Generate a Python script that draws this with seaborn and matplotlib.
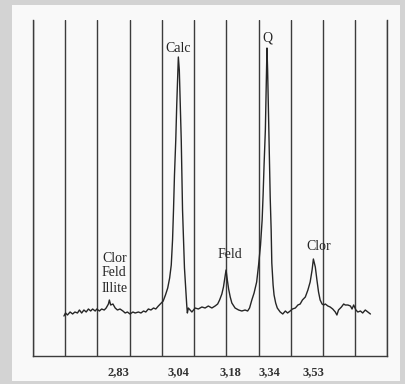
import numpy as np
import pandas as pd
import seaborn as sns
import matplotlib.pyplot as plt
from matplotlib.patches import Rectangle

# Diffractograma (posição em canais de varredura, intensidade em contagens relativas)
posicao = [9.6, 10.1, 10.7, 11.5, 12.3, 13.0, 13.8, 14.4, 15.1, 15.8, 16.5, 17.2, 17.9, 18.5,
           19.3, 19.8, 20.6, 21.3, 22.1, 22.7, 23.4, 23.7, 24.1, 24.8, 25.5, 26.2, 27.0, 27.9,
           28.6, 29.3, 30.1, 31.0, 31.7, 32.7, 33.5, 34.3, 35.0, 35.8, 36.6, 37.4, 38.1, 38.9,
           39.5, 40.4, 41.1, 41.8, 42.4, 42.9, 43.3, 43.6, 43.9, 44.3, 44.6, 44.9, 45.1, 45.4,
           45.7, 46.0, 46.2, 46.4, 46.7, 47.0, 47.4, 47.7, 47.9, 48.2, 49.3, 50.3, 51.3, 52.4,
           53.4, 54.4, 55.5, 56.5, 57.3, 57.9, 58.6, 59.1, 59.6, 59.9, 60.3, 60.7, 61.2, 61.7,
           62.7, 63.8, 64.8, 65.8, 66.6, 67.2, 67.9, 68.6, 69.4, 70.0, 70.6, 71.1, 71.4, 71.7,
           72.1, 72.3, 72.5, 72.6, 72.8, 73.0, 73.2, 73.4, 73.6, 73.9, 74.1, 74.5, 74.8, 75.3,
           75.8, 76.7, 77.5, 78.3, 79.0, 79.8, 80.5, 81.4, 82.2, 82.9, 83.6, 84.5, 85.3, 86.0,
           86.6, 87.0, 87.6, 88.1, 88.6, 89.1, 89.7, 90.2, 90.7, 91.5, 92.2, 93.0, 93.8, 94.3,
           94.8, 95.7, 96.4, 96.9, 97.7, 98.5, 99.0, 99.5, 100.2, 100.8, 101.6, 102.3, 103.1,
           103.9, 104.7]
intensidade = [40, 43, 41, 44, 42, 44, 43, 46, 43, 46, 44, 47, 45, 47,
               45, 47, 45, 47, 46, 48, 52, 56, 51, 52, 48, 46, 47, 45,
               43, 44, 42, 44, 43, 44, 43, 45, 44, 47, 46, 48, 47, 50,
               52, 55, 61, 68, 78, 91, 116, 146, 181, 216, 251, 281, 299, 286,
               251, 216, 181, 146, 116, 88, 66, 51, 43, 48, 44, 48, 47, 49,
               48, 50, 48, 50, 52, 56, 62, 69, 80, 86, 76, 67, 59, 53,
               48, 46, 45, 46, 45, 48, 56, 63, 74, 91, 111, 136, 161, 191,
               226, 261, 291, 308, 286, 256, 226, 191, 159, 126, 93, 71, 61, 53,
               48, 44, 42, 45, 43, 45, 47, 48, 51, 52, 56, 59, 66, 74,
               86, 97, 89, 76, 64, 56, 52, 51, 52, 50, 49, 47, 44, 41,
               46, 49, 52, 51, 51, 50, 47, 51, 46, 44, 45, 43, 46,
               44, 42]

# rótulos do eixo (d, em Å) e picos identificados
d_rotulos = ['2,83', '3,04', '3,18', '3,34', '3,53']
d_posicoes = [26.4, 45.0, 61.2, 73.3, 87.0]
minerais = ['Calc', 'Q', 'Feld', 'Clor', 'Clor\nFeld\nIllite']
minerais_x = [45.0, 72.7, 61.2, 88.5, 25.2]
minerais_y = [307, 318, 102, 110, 83]

df = pd.DataFrame({'posicao': posicao, 'intensidade': intensidade})

sns.set_theme(style='white')
plt.rcParams['font.family'] = ['Liberation Serif', 'DejaVu Serif']

fig = plt.figure(figsize=(4.06, 3.84), dpi=100, facecolor='#d3d3d3')
fig.patches.append(Rectangle((12 / 406, 3 / 384), 388 / 406, 376 / 384,
                             transform=fig.transFigure, facecolor='#f9f9f9',
                             edgecolor='none', zorder=-10))
ax = fig.add_axes([33 / 406, 28 / 384, 354.5 / 406, 336 / 384])
ax.set_facecolor('none')

sns.lineplot(data=df, x='posicao', y='intensidade', sort=False, color='#262626',
             linewidth=1.0, ax=ax)

ax.set_xlim(0, 110)
ax.set_ylim(0, 336)
ax.set_xticks(np.arange(0, 111, 10), minor=True)
ax.set_xticks(d_posicoes)
ax.set_xticklabels(d_rotulos, fontsize=9, fontweight='bold', color='#333333')
ax.set_yticks([])
ax.tick_params(axis='x', which='both', length=0, pad=7.5)
ax.grid(which='minor', axis='x', color='#3c3c3c', linewidth=1.0)
ax.grid(which='major', visible=False)
ax.set_xlabel('')
ax.set_ylabel('')
for lado in ['left', 'right', 'bottom']:
    ax.spines[lado].set_color('#3c3c3c')
    ax.spines[lado].set_linewidth(1.0)
ax.spines['top'].set_visible(False)

for nome, x, y in zip(minerais, minerais_x, minerais_y):
    ax.text(x, y, nome, ha='center', va='center', fontsize=10, color='#262626',
            linespacing=1.2)

plt.savefig('out.png', dpi=100, facecolor=fig.get_facecolor())
